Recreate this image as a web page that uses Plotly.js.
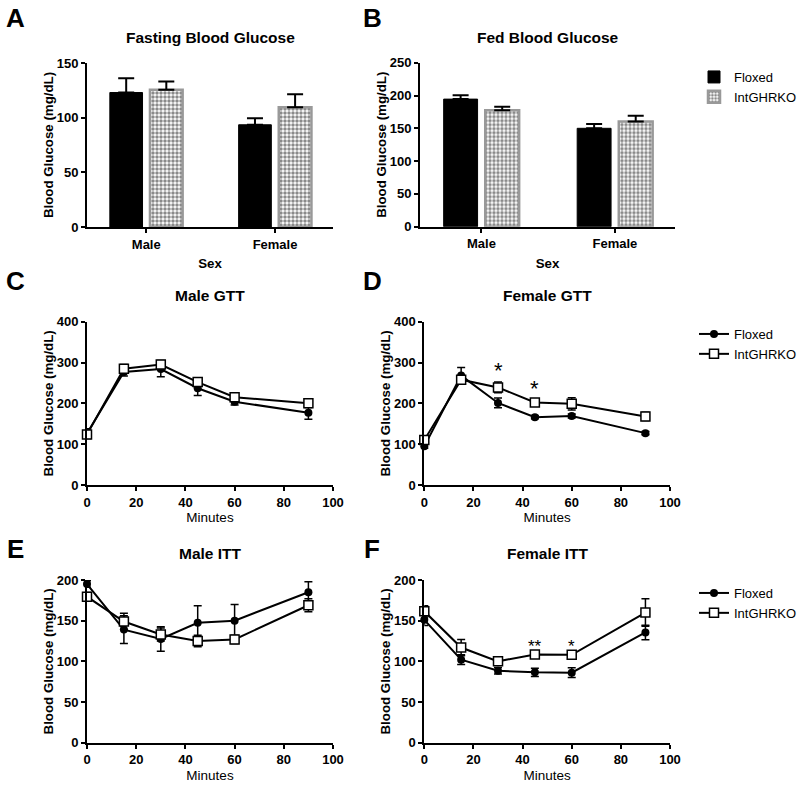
<!DOCTYPE html>
<html>
<head>
<meta charset="utf-8">
<script src="https://cdn.plot.ly/plotly-3.0.1.min.js"></script>
<style>html,body{margin:0;padding:0;background:#fff;}#chart{width:800px;height:790px;}</style>
</head>
<body>
<div id="chart"></div>
<script>
// ---- data ----
const sexCategories = ['Male', 'Female'];
const fastingFloxed = [123, 93.5];
const fastingFloxedErr = [13, 6];
const fastingInt = [125.5, 109.5];
const fastingIntErr = [7.5, 12];
const fedFloxed = [194.5, 150];
const fedFloxedErr = [6, 6.5];
const fedInt = [177.5, 160.5];
const fedIntErr = [5.5, 8.5];

const minutes = [0, 15, 30, 45, 60, 90];
const maleGttFloxed = [126, 277, 284, 237, 204, 177];
const maleGttFloxedErr = [12, 10, 19, 18, 8, 16];
const maleGttInt = [124, 285, 295, 252, 215, 200];
const maleGttIntErr = [6, 10, 10, 8, 6, 10];
const femaleGttFloxed = [95, 268, 201, 166, 169, 127];
const femaleGttFloxedErr = [5, 20, 12, 4, 5, 4];
const femaleGttInt = [110, 258, 239, 202, 199, 168];
const femaleGttIntErr = [8, 10, 13, 5, 15, 10];
const maleIttFloxed = [195, 139, 127.5, 147.5, 150, 185];
const maleIttFloxedErr = [4, 17, 15, 21, 20, 13];
const maleIttInt = [179.5, 149, 133, 125, 127, 169];
const maleIttIntErr = [5, 10, 8, 7, 5, 8];
const femaleIttFloxed = [151, 102, 88.5, 86.5, 86, 135.5];
const femaleIttFloxedErr = [7, 6, 4, 5, 6, 9];
const femaleIttInt = [161.5, 117, 100, 108.5, 108, 160];
const femaleIttIntErr = [7, 10, 3, 3, 5, 17];

const femaleGttStars = {x: [30, 45], y: [280, 236], text: ['*', '*']};
const femaleIttStars = {x: [45, 60], y: [118, 118], text: ['**', '*']};

const titles = ['Fasting Blood Glucose', 'Fed Blood Glucose', 'Male GTT', 'Female GTT', 'Male ITT', 'Female ITT'];
const letters = ['A', 'B', 'C', 'D', 'E', 'F'];
const seriesNames = ['Floxed', 'IntGHRKO'];

// ---- layout helpers (pixel geometry) ----
const W = 800, H = 790;
const px = (a, b) => [a / W, b / W];
const py = (top, bottom) => [1 - bottom / H, 1 - top / H];
const boxes = [
  {x: [87, 333], y: [63, 227]},
  {x: [420, 675], y: [62.7, 226.7]},
  {x: [87, 333], y: [321.7, 485]},
  {x: [424.3, 670], y: [321.7, 485]},
  {x: [87, 333], y: [580, 742.7]},
  {x: [424.3, 670], y: [580, 742.7]}
];
const FONT = 'Liberation Sans, Arial, sans-serif';

function yAxis(i, range, dtick, standoff) {
  return {
    domain: py(boxes[i].y[0], boxes[i].y[1]),
    anchor: i === 0 ? 'x' : 'x' + (i + 1),
    range: range, dtick: dtick, tick0: 0,
    showline: true, linecolor: '#000', linewidth: 2,
    ticks: 'outside', ticklen: 4, tickwidth: 2, tickcolor: '#000',
    showgrid: false, zeroline: false, fixedrange: true, automargin: false,
    tickfont: {family: FONT, size: 13, color: '#000', weight: 'bold'},
    title: {text: 'Blood Glucose (mg/dL)', standoff: standoff,
            font: {family: FONT, size: 13.3, color: '#000', weight: 'bold'}}
  };
}
function xAxisNum(i) {
  return {
    domain: px(boxes[i].x[0], boxes[i].x[1]),
    anchor: 'y' + (i + 1),
    range: [0, 100], dtick: 20, tick0: 0,
    showline: true, linecolor: '#000', linewidth: 2,
    ticks: 'outside', ticklen: 4, tickwidth: 2, tickcolor: '#000',
    showgrid: false, zeroline: false, fixedrange: true, automargin: false,
    tickfont: {family: FONT, size: 13, color: '#000', weight: 'bold'},
    title: {text: 'Minutes', standoff: 4, font: {family: FONT, size: 13.5, color: '#000'}}
  };
}
function xAxisCat(i) {
  return {
    domain: px(boxes[i].x[0], boxes[i].x[1]),
    anchor: i === 0 ? 'y' : 'y' + (i + 1),
    type: 'category', range: [-0.46, 1.45],
    showline: true, linecolor: '#000', linewidth: 2,
    ticks: 'outside', ticklen: 4, tickwidth: 2, tickcolor: '#000',
    showgrid: false, zeroline: false, fixedrange: true, automargin: false,
    tickfont: {family: FONT, size: 13, color: '#000', weight: 'bold'},
    title: {text: 'Sex', standoff: 8, font: {family: FONT, size: 13.3, color: '#000', weight: 'bold'}}
  };
}

// ---- traces ----
const traces = [];
function barPair(i, flox, floxErr, intg, intErr, showLegend) {
  const xa = i === 0 ? 'x' : 'x' + (i + 1);
  const ya = i === 0 ? 'y' : 'y' + (i + 1);
  traces.push({
    type: 'bar', x: sexCategories, y: flox, xaxis: xa, yaxis: ya,
    name: seriesNames[0], legend: 'legend', showlegend: showLegend, legendgroup: 'bf',
    marker: {color: '#000', line: {color: '#000', width: 1}},
    error_y: {type: 'data', symmetric: false, array: floxErr, arrayminus: floxErr.map(() => 0),
              color: '#000', thickness: 2, width: 8}
  });
  traces.push({
    type: 'bar', x: sexCategories, y: intg, xaxis: xa, yaxis: ya,
    name: seriesNames[1], legend: 'legend', showlegend: showLegend, legendgroup: 'bi',
    marker: {color: '#ffffff', line: {color: '#999999', width: 2.5},
             pattern: {shape: '.', fgcolor: '#8a8a8a', bgcolor: '#ffffff', size: 4, solidity: 0.6}},
    error_y: {type: 'data', symmetric: false, array: intErr, arrayminus: intErr.map(() => 0),
              color: '#000', thickness: 2, width: 8}
  });
}
barPair(0, fastingFloxed, fastingFloxedErr, fastingInt, fastingIntErr, false);
barPair(1, fedFloxed, fedFloxedErr, fedInt, fedIntErr, true);

function linePair(i, flox, floxErr, intg, intErr, legendName) {
  const xa = 'x' + (i + 1), ya = 'y' + (i + 1);
  traces.push({
    type: 'scatter', mode: 'lines+markers', x: minutes, y: flox, xaxis: xa, yaxis: ya,
    name: seriesNames[0], legend: legendName || 'legend2', showlegend: !!legendName,
    cliponaxis: false,
    line: {color: '#000', width: 2},
    marker: {symbol: 'circle', size: 8, color: '#000'},
    error_y: {type: 'data', array: floxErr, color: '#000', thickness: 1.5, width: 4}
  });
  traces.push({
    type: 'scatter', mode: 'lines+markers', x: minutes, y: intg, xaxis: xa, yaxis: ya,
    name: seriesNames[1], legend: legendName || 'legend2', showlegend: !!legendName,
    cliponaxis: false,
    line: {color: '#000', width: 2},
    marker: {symbol: 'square', size: 9, color: '#fff', line: {color: '#000', width: 1.5}},
    error_y: {type: 'data', array: intErr, color: '#000', thickness: 1.5, width: 4}
  });
}
linePair(2, maleGttFloxed, maleGttFloxedErr, maleGttInt, maleGttIntErr, null);
linePair(3, femaleGttFloxed, femaleGttFloxedErr, femaleGttInt, femaleGttIntErr, 'legend2');
linePair(4, maleIttFloxed, maleIttFloxedErr, maleIttInt, maleIttIntErr, null);
linePair(5, femaleIttFloxed, femaleIttFloxedErr, femaleIttInt, femaleIttIntErr, 'legend3');

// ---- annotations ----
const annotations = [];
const letterPos = [[15, 18], [372, 18], [15, 281], [372, 281], [15, 549], [372, 549]];
const titleY = [37, 37, 295, 295, 553, 553];
for (let i = 0; i < 6; i++) {
  annotations.push({xref: 'paper', yref: 'paper', x: letterPos[i][0] / W, y: 1 - letterPos[i][1] / H,
    text: letters[i], showarrow: false, xanchor: 'center', yanchor: 'middle',
    font: {family: FONT, size: 26, color: '#000', weight: 'bold'}});
  annotations.push({xref: 'paper', yref: 'paper', x: (boxes[i].x[0] + boxes[i].x[1]) / 2 / W,
    y: 1 - titleY[i] / H, text: titles[i], showarrow: false, xanchor: 'center', yanchor: 'middle',
    font: {family: FONT, size: 15.5, color: '#000', weight: 'bold'}});
}
femaleGttStars.x.forEach((xv, k) => annotations.push({xref: 'x4', yref: 'y4', x: xv, y: femaleGttStars.y[k],
  text: femaleGttStars.text[k], showarrow: false, yanchor: 'middle',
  font: {family: FONT, size: 22, color: '#000'}}));
femaleIttStars.x.forEach((xv, k) => annotations.push({xref: 'x6', yref: 'y6', x: xv, y: femaleIttStars.y[k],
  text: femaleIttStars.text[k], showarrow: false, yanchor: 'middle',
  font: {family: FONT, size: 17, color: '#000'}}));

const legendBase = {xanchor: 'left', yanchor: 'top', bgcolor: 'rgba(0,0,0,0)',
  font: {family: FONT, size: 13, color: '#000'}, tracegroupgap: 0, itemclick: false, itemdoubleclick: false};

const layout = {
  width: W, height: H, margin: {l: 0, r: 0, t: 0, b: 0, autoexpand: false},
  paper_bgcolor: '#fff', plot_bgcolor: '#fff',
  font: {family: FONT, color: '#000'},
  barmode: 'group', bargap: 0.377, bargroupgap: 0.185,
  xaxis: xAxisCat(0), yaxis: yAxis(0, [0, 150], 50, 0),
  xaxis2: xAxisCat(1), yaxis2: yAxis(1, [0, 250], 50, 0),
  xaxis3: xAxisNum(2), yaxis3: yAxis(2, [0, 400], 100, 0),
  xaxis4: xAxisNum(3), yaxis4: yAxis(3, [0, 400], 100, 0),
  xaxis5: xAxisNum(4), yaxis5: yAxis(4, [0, 200], 50, 0),
  xaxis6: xAxisNum(5), yaxis6: yAxis(5, [0, 200], 50, 0),
  legend: Object.assign({}, legendBase, {x: 694 / W, y: 1 - 62 / H}),
  legend2: Object.assign({}, legendBase, {x: 694 / W, y: 1 - 319 / H}),
  legend3: Object.assign({}, legendBase, {x: 694 / W, y: 1 - 578 / H}),
  annotations: annotations,
  showlegend: true
};

Plotly.newPlot('chart', traces, layout, {staticPlot: true, displayModeBar: false});
</script>
</body>
</html>
